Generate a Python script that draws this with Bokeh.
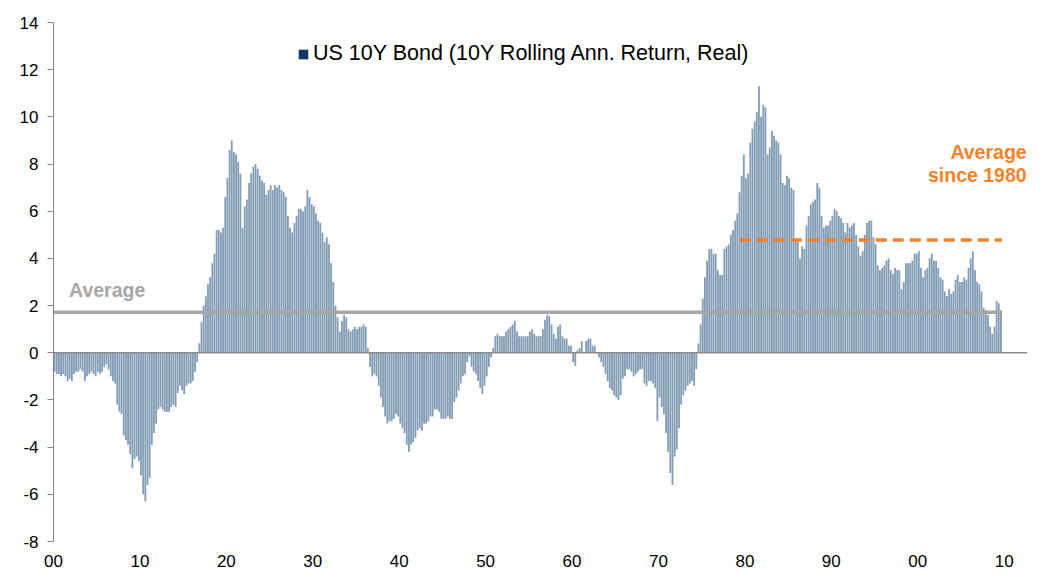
from bokeh.plotting import figure
from bokeh.models import Range1d, FixedTicker, Span, Label, Legend, LegendItem, ColumnDataSource
from bokeh.embed import file_html
from bokeh.resources import INLINE

# US 10Y bond, 10Y rolling annualised real return (%), quarterly readings by decade
q1900s = [-0.8, -0.9, -0.9, -1.0, -0.9, -1.0, -1.2, -1.1, -1.2, -0.9, -0.8, -0.8,
          -0.7, -0.8, -1.2, -1.0, -0.9, -0.8, -0.9, -1.0, -0.8, -0.9, -0.8, -0.6,
          -0.5, -0.7, -1.0, -1.2, -1.3, -2.2, -2.5, -2.6, -3.5, -3.7, -3.9, -4.3,
          -4.9, -4.5, -4.4, -4.6]
q1910s = [-5.2, -6.0, -6.3, -5.6, -5.3, -3.9, -3.4, -3.0, -2.4, -2.3, -2.4, -2.5,
          -2.5, -2.5, -2.3, -2.2, -2.3, -1.7, -1.4, -1.6, -1.75, -1.4, -1.3, -1.3,
          -1.2, -0.8, -0.4, 0.4, 1.3, 2.0, 2.4, 2.9, 3.2, 3.8, 4.2, 5.2,
          5.2, 5.1, 5.3, 6.6]
q1920s = [7.4, 8.6, 9.0, 8.5, 8.4, 8.1, 7.6, 5.3, 6.2, 6.5, 7.2, 7.6,
          7.9, 8.0, 7.8, 7.5, 7.3, 7.2, 6.7, 6.9, 7.1, 6.9, 7.1, 7.0,
          7.1, 6.9, 6.8, 6.6, 5.8, 5.3, 5.1, 5.5, 5.8, 6.1, 6.1, 6.0,
          6.2, 6.9, 6.6, 6.3]
q1930s = [6.2, 5.9, 5.6, 5.5, 5.1, 4.7, 4.9, 4.6, 3.8, 3.0, 2.0, 1.5,
          0.9, 1.35, 1.6, 1.5, 1.0, 0.9, 1.0, 1.1, 1.0, 1.1, 1.1, 1.2,
          1.1, 0.2, -0.6, -1.0, -0.9, -1.0, -1.4, -1.9, -2.3, -2.7, -3.0, -2.9,
          -2.9, -2.8, -2.6, -2.7]
q1940s = [-3.0, -3.2, -3.4, -3.9, -4.2, -3.9, -3.8, -3.6, -3.3, -3.2, -3.3, -3.0,
          -3.0, -2.9, -2.7, -2.7, -2.4, -2.4, -2.5, -2.8, -2.8, -2.8, -2.7, -2.8,
          -2.8, -2.1, -1.9, -1.6, -1.3, -1.0, -0.9, -0.4, -0.15, -0.6, -0.8, -0.9,
          -1.2, -1.5, -1.75, -1.4]
q1950s = [-1.0, -0.6, -0.2, 0.2, 0.7, 0.8, 0.7, 0.7, 0.7, 0.9, 1.0, 1.1,
          1.2, 1.35, 0.9, 0.7, 0.7, 0.7, 0.7, 0.7, 0.9, 1.0, 0.8, 0.7,
          0.7, 0.7, 1.0, 1.4, 1.6, 1.55, 1.2, 0.8, 0.6, 1.1, 1.2, 0.7,
          0.6, 0.6, 0.3, 0.3]
q1960s = [-0.4, -0.55, 0.1, 0.2, 0.5, 0.0, 0.5, 0.6, 0.6, 0.3, 0.3, 0.0,
          -0.2, -0.4, -0.6, -0.9, -1.2, -1.5, -1.6, -1.8, -1.9, -2.0, -1.8, -1.1,
          -1.0, -0.7, -0.7, -0.8, -1.0, -0.9, -0.8, -0.7, -0.7, -1.3, -1.4, -1.2,
          -1.2, -1.3, -1.5, -2.9]
q1970s = [-1.9, -2.3, -2.6, -3.4, -4.2, -5.1, -5.6, -4.4, -4.1, -3.2, -2.2, -1.8,
          -1.6, -1.4, -1.3, -1.2, -1.4, -0.7, 0.4, 1.2, 2.3, 3.2, 3.9, 4.4,
          4.4, 4.2, 4.2, 3.5, 3.3, 3.3, 4.4, 4.5, 4.6, 5.0, 5.2, 5.6,
          5.9, 6.8, 7.5, 8.4]
q1980s = [7.4, 7.6, 8.9, 9.5, 9.8, 10.2, 11.3, 10.0, 10.5, 10.4, 8.4, 8.7,
          9.4, 9.2, 9.0, 8.9, 8.4, 7.2, 7.1, 7.5, 7.4, 7.0, 6.9, 4.8,
          4.7, 4.0, 4.5, 4.4, 5.4, 5.8, 6.3, 6.4, 6.5, 7.2, 7.0, 5.8,
          5.3, 5.4, 5.4, 5.6]
q1990s = [5.8, 6.1, 6.0, 5.8, 5.7, 5.5, 5.1, 5.5, 5.3, 5.4, 5.5, 5.0,
          4.5, 4.1, 4.3, 5.0, 5.5, 5.6, 5.6, 4.9, 4.6, 3.7, 3.5, 3.6,
          3.7, 3.9, 4.0, 3.5, 3.35, 3.6, 3.5, 3.5, 2.7, 3.0, 3.8, 3.8,
          3.8, 3.9, 4.2, 4.2]
q2000s = [4.3, 3.6, 3.2, 3.5, 3.6, 4.0, 4.2, 3.9, 3.9, 3.6, 3.2, 3.1,
          2.6, 2.4, 2.7, 2.5, 2.6, 3.1, 3.3, 3.0, 3.0, 3.2, 3.1, 3.6,
          4.0, 4.3, 3.5, 3.0, 2.9, 2.6, 1.9, 1.8, 1.6, 1.1, 0.8, 1.1,
          2.2, 2.1, 1.8]

first_year = 1900
step = 0.25                 # quarterly
avg_all = 1.72              # full-sample average
avg_since_1980 = 4.78       # average since 1980
avg1980_from = 1979.4

x_ticks = [1900, 1910, 1920, 1930, 1940, 1950, 1960, 1970, 1980, 1990, 2000, 2010]
x_tick_labels = ["00", "10", "20", "30", "40", "50", "60", "70", "80", "90", "00", "10"]
y_ticks = [-8, -6, -4, -2, 0, 2, 4, 6, 8, 10, 12, 14]
y_tick_labels = ["-8", "-6", "-4", "-2", "0", "2", "4", "6", "8", "10", "12", "14"]

series_name = "US 10Y Bond (10Y Rolling Ann. Return, Real)"

values = (q1900s + q1910s + q1920s + q1930s + q1940s + q1950s +
          q1960s + q1970s + q1980s + q1990s + q2000s)
xs = [first_year + i * step + step / 2 for i in range(len(values))]
last_x = first_year + len(values) * step

FONT = "Liberation Sans"
BAR = "#839db6"
NAVY = "#0e3a62"
GRAY = "#a6a6a6"
ORANGE = "#f4822a"

p = figure(width=1041, height=573, output_backend="svg", toolbar_location=None,
           x_range=Range1d(1900, 2012.7), y_range=Range1d(-8, 14),
           min_border_left=53, min_border_right=14, min_border_top=22, min_border_bottom=32)
p.outline_line_color = None
p.xgrid.visible = False
p.ygrid.visible = False
p.background_fill_color = "white"
p.border_fill_color = "white"

src = ColumnDataSource(dict(x=xs, top=values))
p.vbar(x="x", top="top", bottom=0, width=step * 0.85, source=src,
       fill_color=BAR, line_color=None)

# zero axis line
p.add_layout(Span(location=0, dimension="width", line_color="#8c8c8c", line_width=1.5))

# average lines
p.line(x=[first_year, last_x], y=[avg_all, avg_all], line_color=GRAY, line_width=3.5)
p.line(x=[avg1980_from, last_x], y=[avg_since_1980, avg_since_1980],
       line_color=ORANGE, line_width=3.5, line_dash="11 6")

# annotations
p.add_layout(Label(x=1901.8, y=2.66, text="Average", text_font=FONT, text_font_size="19.5px",
                   text_font_style="bold", text_color=GRAY, text_baseline="alphabetic"))
p.add_layout(Label(x=2012.6, y=8.5, text="Average", text_font=FONT, text_font_size="19.5px",
                   text_font_style="bold", text_color=ORANGE, text_align="right",
                   text_baseline="alphabetic"))
p.add_layout(Label(x=2012.6, y=7.52, text="since 1980", text_font=FONT, text_font_size="19.5px",
                   text_font_style="bold", text_color=ORANGE, text_align="right",
                   text_baseline="alphabetic"))

# legend (swatch only; the renderer draws nothing)
nan = float("nan")
dummy = p.vbar(x=[nan], top=[nan], width=1, fill_color=NAVY, line_color=None)
legend = Legend(items=[LegendItem(label=series_name, renderers=[dummy])],
                location=(244, 475), glyph_width=12, glyph_height=12, label_standoff=4,
                padding=0, margin=0, spacing=0, border_line_color=None,
                background_fill_alpha=0, label_text_font=FONT,
                label_text_font_size="21.5px", label_text_color="#000000")
p.add_layout(legend)

# axes
ya = p.yaxis[0]
ya.ticker = FixedTicker(ticks=y_ticks)
ya.major_label_overrides = {t: l for t, l in zip(y_ticks, y_tick_labels)}
ya.axis_line_color = "#868686"
ya.major_tick_line_color = "#868686"
ya.major_tick_in = 0
ya.major_tick_out = 6
ya.minor_tick_line_color = None
ya.major_label_text_font = FONT
ya.major_label_text_font_size = "17px"
ya.major_label_text_color = "#000000"
ya.major_label_standoff = 9

xa = p.xaxis[0]
xa.ticker = FixedTicker(ticks=x_ticks)
xa.major_label_overrides = {t: l for t, l in zip(x_ticks, x_tick_labels)}
xa.axis_line_color = None
xa.major_tick_line_color = None
xa.major_tick_in = 0
xa.major_tick_out = 0
xa.minor_tick_line_color = None
xa.major_label_text_font = FONT
xa.major_label_text_font_size = "17px"
xa.major_label_text_color = "#000000"
xa.major_label_standoff = 13

open("out.html", "w").write(file_html(p, INLINE))
